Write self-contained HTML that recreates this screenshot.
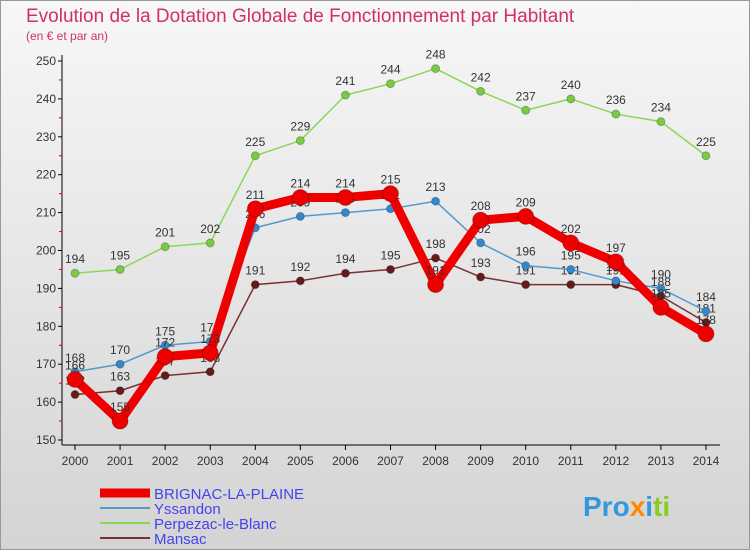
<!DOCTYPE html>
<html><head><meta charset="utf-8"><style>
body{margin:0;width:750px;height:550px;overflow:hidden;font-family:"Liberation Sans",sans-serif}
svg{display:block}
</style></head><body>
<svg width="750" height="550" id="svg">
<defs><linearGradient id="bg" x1="0" y1="0" x2="0" y2="1"><stop offset="0" stop-color="#f7f7f7"/><stop offset="1" stop-color="#d4d4d4"/></linearGradient></defs>
<rect x="0.5" y="0.5" width="749" height="549" fill="url(#bg)" stroke="#999"/>
<text x="26" y="22" font-size="19" fill="#d0306a">Evolution de la Dotation Globale de Fonctionnement par Habitant</text>
<text x="26" y="40" font-size="12" fill="#d0306a">(en € et par an)</text>
<g id="axes"></g><g id="series"></g><g id="legend"></g>
<text x="583" y="516" font-size="28" font-weight="bold" fill="#3399dd">Pro<tspan fill="#ff8800">x</tspan><tspan fill="#3399dd">i</tspan><tspan fill="#88cc22">ti</tspan></text>
</svg>
<script>
const years=[2000,2001,2002,2003,2004,2005,2006,2007,2008,2009,2010,2011,2012,2013,2014];
const brignac=[166,155,172,173,211,214,214,215,191,208,209,202,197,185,178];
const yssandon=[168,170,175,176,206,209,210,211,213,202,196,195,192,190,184];
const perpezac=[194,195,201,202,225,229,241,244,248,242,237,240,236,234,225];
const mansac=[162,163,167,168,191,192,194,195,198,193,191,191,191,188,181];
const yTicks=[150,160,170,180,190,200,210,220,230,240,250];
const NS="http://www.w3.org/2000/svg";
const X=i=>75+i*45.07, Y=v=>440-(v-150)*3.79;
function mk(p,t,a){const e=document.createElementNS(NS,t);for(const k in a)e.setAttribute(k,a[k]);p.appendChild(e);return e;}
const ax=document.getElementById('axes');
const yl=mk(ax,'line',{x1:62,y1:55,x2:62,y2:445,stroke:'#000'});


const xl=mk(ax,'line',{x1:62,y1:445,x2:720,y2:445,stroke:'#000'});


yTicks.forEach(v=>{
 mk(ax,'line',{x1:58,y1:Y(v),x2:62,y2:Y(v),stroke:'#000'});
 if(v<250)mk(ax,'line',{x1:59,y1:Y(v+5),x2:62,y2:Y(v+5),stroke:'#d00'});
 const t=mk(ax,'text',{x:56,y:Y(v)+4,'font-size':12,'text-anchor':'end',fill:'#333'});t.textContent=v;
 
 
});
years.forEach((y,i)=>{
 mk(ax,'line',{x1:X(i),y1:445,x2:X(i),y2:450,stroke:'#000'});
 const t=mk(ax,'text',{x:X(i),y:465,'font-size':12,'text-anchor':'middle',fill:'#333'});t.textContent=y;
 
 
});
const sg=document.getElementById('series');
const S=[
 {n:'perpezac',d:perpezac,c:'#88d855',f:'#77cc44',w:1.5,r:4,lab:'Perpezac-le-Blanc'},
 {n:'mansac',d:mansac,c:'#7a3030',f:'#661a1a',w:1.5,r:4,lab:'Mansac'},
 {n:'yssandon',d:yssandon,c:'#5599cc',f:'#3388cc',w:1.5,r:4,lab:'Yssandon'},
 {n:'brignac',d:brignac,c:'#ee0000',f:'#ee0000',w:9,r:8,lab:'BRIGNAC-LA-PLAINE'}];
S.forEach(s=>{
 const g=mk(sg,'g',{});
 
 
 const p=mk(g,'polyline',{points:s.d.map((v,i)=>X(i)+','+Y(v)).join(' '),fill:'none',stroke:s.c,'stroke-width':s.w,'stroke-linejoin':'round'});
 
 
 s.d.forEach((v,i)=>{
  const c=mk(g,'circle',{cx:X(i),cy:Y(v),r:s.r,fill:s.f,stroke:'rgba(0,0,0,0.25)'});
  
  
  const t=mk(g,'text',{x:X(i),y:Y(v)-10,'font-size':12,'text-anchor':'middle',fill:'#333'});t.textContent=v;
  
  
 });
});
const lg=document.getElementById('legend');
const L=[S[3],S[2],S[0],S[1]];
L.forEach((s,i)=>{
 const y=493+i*15;
 const g=mk(lg,'g',{});
 
 
 mk(g,'line',{x1:100,y1:y,x2:150,y2:y,stroke:s.c,'stroke-width':i==0?9:2});
 const t=mk(g,'text',{x:154,y:y+6,'font-size':15,fill:'#4444ee'});t.textContent=s.lab;
});
</script>
</body></html>
